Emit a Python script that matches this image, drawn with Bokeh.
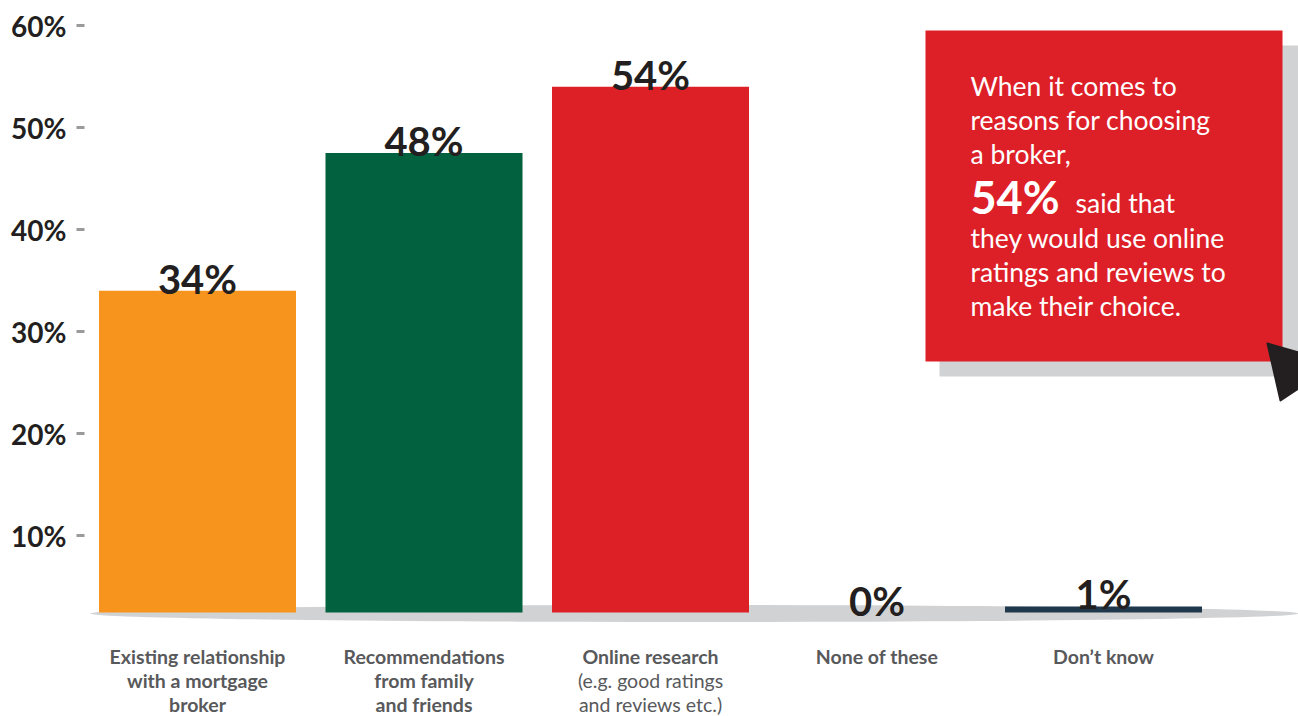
import numpy as np
from bokeh.plotting import figure
from bokeh.models import Range1d, FixedTicker, ColumnDataSource
from bokeh.core.properties import value
from bokeh.embed import file_html
from bokeh.resources import INLINE

# ---------------- data ----------------
categories = ["Existing relationship with a mortgage broker",
              "Recommendations from family and friends",
              "Online research",
              "None of these",
              "Don’t know"]
values = [34, 47.5, 54, 0, 1]
value_labels = ["34%", "48%", "54%", "0%", "1%"]
bar_colors = ["#F7941D", "#02613F", "#DD1F26", "#C8C8C8", "#1F384B"]
label_bold_lines = [["Existing relationship", "with a mortgage", "broker"],
                    ["Recommendations", "from family", "and friends"],
                    ["Online research"],
                    ["None of these"],
                    ["Don’t know"]]
label_sub_lines = [[], [], ["(e.g. good ratings", "and reviews etc.)"], [], []]
tick_values = [10, 20, 30, 40, 50, 60]
tick_labels = ["10%", "20%", "30%", "40%", "50%", "60%"]
callout_lines_top = ["When it comes to", "reasons for choosing", "a broker,"]
callout_big = "54%"
callout_after_big = "said that"
callout_lines_bottom = ["they would use online", "ratings and reviews to", "make their choice."]

# ---------------- layout constants (pixels) ----------------
W, H = 1298, 716
FRAME_LEFT = 84
ZERO_PX = 637.0      # pixel row of value 0
PX_PER_UNIT = 10.2   # pixels per 1 %
FIRST_CENTER_PX = 197.0
STEP_PX = 226.5
BASE_PX = 612.0

def Y(py):
    return (ZERO_PX - py) / PX_PER_UNIT

def X(px):
    return (px - FIRST_CENTER_PX) / STEP_PX

def shift(fs):
    # compensates the renderer's baseline placement
    return -round(0.36 * fs)

FONT = value("Lato")

p = figure(width=W, height=H, output_backend="svg", toolbar_location=None,
           x_range=Range1d(X(FRAME_LEFT), X(W)), y_range=Range1d(Y(H), Y(0)),
           x_axis_location=None, min_border_left=FRAME_LEFT, min_border_right=0,
           min_border_top=0, min_border_bottom=0)
p.outline_line_color = None
p.xgrid.visible = False
p.ygrid.visible = False
p.background_fill_color = "white"
p.border_fill_color = "white"

ax = p.yaxis[0]
ax.ticker = FixedTicker(ticks=tick_values)
ax.major_label_overrides = {t: l for t, l in zip(tick_values, tick_labels)}
ax.axis_line_color = None
ax.minor_tick_line_color = None
ax.major_tick_in = 0
ax.major_tick_out = 8
ax.major_tick_line_color = "#9A9A9A"
ax.major_tick_line_width = 3
ax.major_label_standoff = 10
ax.major_label_text_font = "Lato"
ax.major_label_text_font_style = "bold"
ax.major_label_text_font_size = "28px"
ax.major_label_text_color = "#231F20"

# ---------------- base shadow ----------------
left_px, right_px = 90, 1298
p.ellipse(x=[X((left_px + right_px) / 2)], y=[Y(613)],
          width=[(right_px - left_px) / STEP_PX], height=[17 / PX_PER_UNIT],
          fill_color="#D1D2D4", line_color=None)

# ---------------- bars ----------------
BASE = Y(BASE_PX)
v = np.array(values, dtype=float)
top = np.where(v > BASE, v, BASE + 0.6 * v)
xs = np.arange(len(categories), dtype=float)
src = ColumnDataSource(dict(x=xs, top=top, bottom=[BASE] * len(xs), color=bar_colors,
                            lab=value_labels))
p.vbar(x="x", top="top", bottom="bottom", width=197 / STEP_PX, fill_color="color",
       line_color=None, source=src)
VFS = 40
p.text(x="x", y="top", text="lab", source=src, text_align="center",
       text_baseline="alphabetic", text_font=FONT, text_font_style="bold",
       text_font_size=f"{VFS}px", text_color="#231F20", y_offset=shift(VFS) + 2)

# ---------------- category labels ----------------
LINE0, LH, CFS = 663, 24, 19.5
for i, (bl, sl) in enumerate(zip(label_bold_lines, label_sub_lines)):
    for j, line in enumerate(bl):
        p.text(x=[xs[i]], y=[Y(LINE0 + j * LH)], text=[line], text_align="center",
               text_baseline="alphabetic", text_font=FONT, text_font_style="bold",
               text_font_size=f"{CFS}px", text_color="#58595B", y_offset=shift(CFS))
    for k, line in enumerate(sl):
        p.text(x=[xs[i]], y=[Y(LINE0 + (len(bl) + k) * LH)], text=[line],
               text_align="center", text_baseline="alphabetic", text_font=FONT,
               text_font_size=f"{CFS}px", text_color="#58595B", y_offset=shift(CFS))

# ---------------- callout ----------------
p.quad(left=[X(939)], right=[X(1298)], top=[Y(45)], bottom=[Y(376)],
       fill_color="#D1D2D4", line_color=None)
p.quad(left=[X(925)], right=[X(1282)], top=[Y(30)], bottom=[Y(361)],
       fill_color="#DD1F28", line_color=None)
p.patch(x=[X(1267), X(1298), X(1298), X(1280)], y=[Y(343), Y(352), Y(388), Y(400)],
        fill_color="#231F20", line_color="#231F20", line_join="round", line_width=2)

TX, TFS, BFS = 970, 26.5, 45
for j, line in enumerate(callout_lines_top):
    p.text(x=[X(TX)], y=[Y(95 + j * 34)], text=[line], text_font=FONT,
           text_font_size=f"{TFS}px", text_color="white", text_baseline="alphabetic",
           y_offset=shift(TFS))
p.text(x=[X(TX)], y=[Y(212)], text=[callout_big], text_font=FONT, text_font_style="bold",
       text_font_size=f"{BFS}px", text_color="white", text_baseline="alphabetic",
       y_offset=shift(BFS))
p.text(x=[X(1075)], y=[Y(212)], text=[callout_after_big], text_font=FONT,
       text_font_size=f"{TFS}px", text_color="white", text_baseline="alphabetic",
       y_offset=shift(TFS))
for j, line in enumerate(callout_lines_bottom):
    p.text(x=[X(TX)], y=[Y(247 + j * 34)], text=[line], text_font=FONT,
           text_font_size=f"{TFS}px", text_color="white", text_baseline="alphabetic",
           y_offset=shift(TFS))

open("out.html", "w").write(file_html(p, INLINE))
